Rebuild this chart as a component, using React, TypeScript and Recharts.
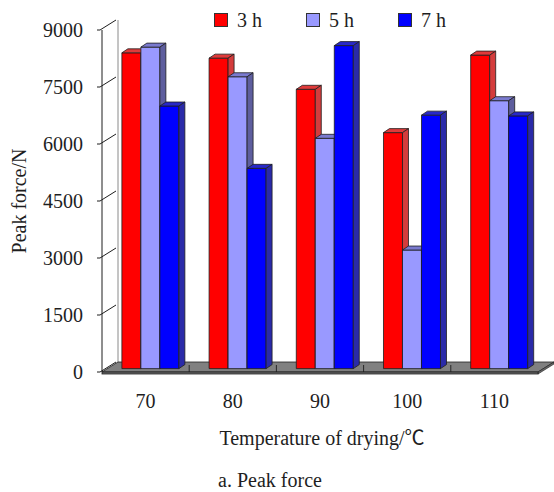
import { Bar, BarChart, Legend, ReferenceArea, XAxis, YAxis } from 'recharts';

const temperatures = ['70', '80', '90', '100', '110'];
const peak3h = [8310, 8170, 7350, 6210, 8250];
const peak5h = [8460, 7680, 6060, 3120, 7050];
const peak7h = [6910, 5270, 8500, 6670, 6650];
const yTicks = [0, 1500, 3000, 4500, 6000, 7500, 9000];

const data = temperatures.map((temp, i) => ({
  temp,
  h3: peak3h[i],
  h5: peak5h[i],
  h7: peak7h[i],
}));

const FONT = '"Liberation Serif", "Times New Roman", serif';
const INK = '#1e1e1e';
// depth of the walls / floor
const WALL_DX = 16;
const WALL_DY = -10;
// bars sit a bit behind the front plane and have their own thickness
const BAR_OX = 5.5;
const BAR_OY = -3.4;
const BAR_DX = 6;
const BAR_DY = -4;

const legendColors: Record<string, string> = { h3: '#ff0000', h5: '#9999ff', h7: '#0000ff' };

function bar3d(top: string, side: string) {
  return (props: any) => {
    const { x, y, width: w, height: h, fill } = props;
    if (!h || h <= 0) return <g />;
    const fx = x + BAR_OX;
    const fy = y + BAR_OY;
    return (
      <g stroke={INK} strokeWidth={0.8} strokeLinejoin="round">
        <rect x={fx} y={fy} width={w} height={h} fill={fill} />
        <polygon
          points={`${fx},${fy} ${fx + BAR_DX},${fy + BAR_DY} ${fx + w + BAR_DX},${fy + BAR_DY} ${fx + w},${fy}`}
          fill={top}
        />
        <polygon
          points={`${fx + w},${fy} ${fx + w + BAR_DX},${fy + BAR_DY} ${fx + w + BAR_DX},${fy + h + BAR_DY} ${fx + w},${fy + h}`}
          fill={side}
        />
      </g>
    );
  };
}

// floor, side wall and the titles, drawn from the plot box
function Room(props: any) {
  const { x, y, width, height } = props;
  const L = x;
  const R = x + width;
  const T = y;
  const B = y + height;
  const band = width / temperatures.length;
  return (
    <g>
      <polygon
        points={`${L},${T} ${L + WALL_DX},${T + WALL_DY} ${L + WALL_DX},${B + WALL_DY} ${L},${B}`}
        fill="#ffffff"
        stroke="none"
      />
      <line x1={L + WALL_DX} y1={T + WALL_DY} x2={L + WALL_DX} y2={B + WALL_DY} stroke="#8a8a8a" strokeWidth={1} />
      <polygon
        points={`${L},${B} ${R},${B} ${R + WALL_DX},${B + WALL_DY} ${L + WALL_DX},${B + WALL_DY}`}
        fill="#808080"
        stroke={INK}
        strokeWidth={0.8}
      />
      <polygon
        points={`${R},${B} ${R + WALL_DX},${B + WALL_DY} ${R + WALL_DX},${B + WALL_DY + 2} ${R},${B + 2}`}
        fill="#6a6a6a"
        stroke={INK}
        strokeWidth={0.6}
      />
      <rect x={L} y={B} width={width} height={2} fill="#6a6a6a" stroke={INK} strokeWidth={0.8} />
      {temperatures.slice(1).map((t, i) => (
        <line key={t} x1={L + band * (i + 1)} y1={B} x2={L + band * (i + 1)} y2={B - 7} stroke={INK} strokeWidth={0.9} />
      ))}
      <text
        x={L - 76}
        y={T + height / 2}
        transform={`rotate(-90, ${L - 76}, ${T + height / 2})`}
        textAnchor="middle"
        fontFamily={FONT}
        fontSize={20}
        fill={INK}
      >
        Peak force/N
      </text>
      <text x={L + width / 2 + 2} y={B + 73} textAnchor="middle" fontFamily={FONT} fontSize={20} fill={INK}>
        Temperature of drying/<tspan fontFamily='"Noto Sans CJK SC", sans-serif'>℃</tspan>
      </text>
      <text x={L + width / 2 - 50} y={B + 115} textAnchor="middle" fontFamily={FONT} fontSize={20} fill={INK}>
        a. Peak force
      </text>
    </g>
  );
}

function YTick(props: any) {
  const { x, y, payload } = props;
  return (
    <g>
      <line x1={x - 3} y1={y} x2={x} y2={y} stroke={INK} strokeWidth={1} />
      <line x1={x} y1={y} x2={x + WALL_DX} y2={y + WALL_DY} stroke={INK} strokeWidth={1} />
      <text x={x - 17} y={y + 7} textAnchor="end" fontFamily={FONT} fontSize={20} fill={INK}>
        {payload.value}
      </text>
    </g>
  );
}

function XTick(props: any) {
  const { x, y, payload } = props;
  return (
    <text x={x} y={y + 34} textAnchor="middle" fontFamily={FONT} fontSize={20} fill={INK}>
      {payload.value}
    </text>
  );
}

function LegendBox(props: any) {
  const items = props.payload || [];
  return (
    <div style={{ display: 'flex', fontFamily: FONT, fontSize: 20, color: INK, lineHeight: '24px' }}>
      {items.map((p: any) => (
        <div key={p.dataKey} style={{ width: 92, display: 'flex', alignItems: 'center' }}>
          <span
            style={{
              display: 'inline-block',
              width: 12,
              height: 12,
              background: legendColors[p.dataKey] || p.color,
              border: '1.5px solid #333',
              marginRight: 9,
            }}
          />
          <span>{p.value}</span>
        </div>
      ))}
    </div>
  );
}

export default function App() {
  return (
    <div style={{ position: 'absolute', left: 0, top: 0, width: 554, height: 492, background: '#fff' }}>
      <BarChart
        width={554}
        height={492}
        data={data}
        margin={{ top: 30, right: 16, left: 42, bottom: 80 }}
        barGap={0}
        barCategoryGap="16.5%"
      >
        <XAxis dataKey="temp" height={40} tickLine={false} axisLine={false} tickSize={0} interval={0} tick={<XTick />} />
        <YAxis
          width={60}
          domain={[0, 9000]}
          ticks={yTicks}
          interval={0}
          tickLine={false}
          tickSize={0}
          axisLine={{ stroke: INK, strokeWidth: 1 }}
          tick={<YTick />}
        />
        <ReferenceArea y1={0} y2={9000} shape={<Room />} ifOverflow="visible" />
        <Legend
          layout="horizontal"
          verticalAlign="middle"
          align="center"
          wrapperStyle={{ top: 8, left: 214, width: 290 }}
          content={<LegendBox />}
        />
        <Bar dataKey="h3" name="3 h" fill="#ff0000" isAnimationActive={false} shape={bar3d('#e03a3a', '#d43c3c')} />
        <Bar dataKey="h5" name="5 h" fill="#9999ff" isAnimationActive={false} shape={bar3d('#7a7acf', '#5e5e9e')} />
        <Bar dataKey="h7" name="7 h" fill="#0000ff" isAnimationActive={false} shape={bar3d('#2828c8', '#2a2aa8')} />
      </BarChart>
    </div>
  );
}
